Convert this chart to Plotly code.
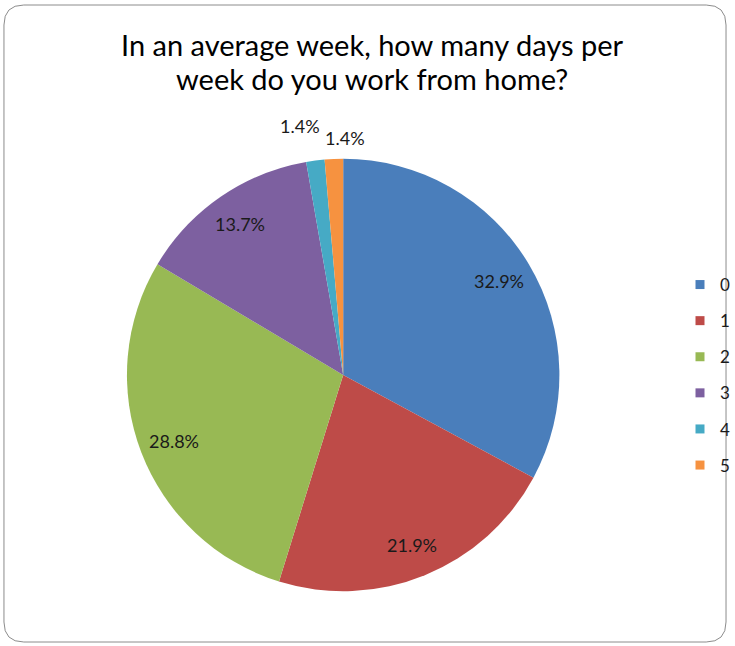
import math
import plotly.graph_objects as go

# ---- data ----
categories = ["0", "1", "2", "3", "4", "5"]
counts = [24, 16, 21, 10, 1, 1]          # respondents (n = 73)
colors = ["#4A7EBB", "#BE4B48", "#98B954", "#7D60A0", "#46AAC5", "#F69240"]
title_lines = ["In an average week, how many days per", "week do you work from home?"]

# ---- layout constants ----
W, H = 735, 646
CX, CY, R = 346, 375, 218
LABEL_R = 0.84                  # inside labels, fraction of radius
OUT_R = [1.15, 1.09]            # outside labels (small slices), fraction of radius
OUT_SHIFT = [-11, 12]           # horizontal nudge (px) to avoid overlap
FONT = "Lato, Carlito, Calibri, sans-serif"
TXT = "#1a1a1a"

dom_x = [(CX - R) / W, (CX + R) / W]
dom_y = [1 - (CY + R) / H, 1 - (CY - R) / H]

total = sum(counts)

fig = go.Figure()
fig.add_trace(go.Pie(
    labels=categories,
    values=counts,
    sort=False,
    direction="clockwise",
    rotation=0,
    marker=dict(colors=colors, line=dict(width=0)),
    textinfo="none",
    domain=dict(x=dom_x, y=dom_y),
    showlegend=False,
    hoverinfo="label+percent",
))

# data labels placed along each slice's mid-angle
annotations = []
cum = 0
k = 0
for c in counts:
    frac = c / total
    mid = (cum + frac / 2) * 2 * math.pi
    cum += frac
    if frac > 0.05:
        rf, shift = LABEL_R, 0
    else:
        rf, shift = OUT_R[k], OUT_SHIFT[k]
        k += 1
    x = CX + rf * R * math.sin(mid)
    y = CY - rf * R * math.cos(mid)
    annotations.append(dict(
        x=x / W, y=1 - y / H, xref="paper", yref="paper",
        text=f"{frac * 100:.1f}%", showarrow=False, xshift=shift,
        font=dict(family=FONT, size=18, color=TXT),
        xanchor="center", yanchor="middle",
    ))

for line, yc in zip(title_lines, [44, 79]):
    annotations.append(dict(
        x=375 / W, y=1 - yc / H, xref="paper", yref="paper",
        text=line, showarrow=False,
        font=dict(family=FONT, size=29, color="#000000"),
        xanchor="center", yanchor="middle", align="center",
    ))

# legend entries
for cat, col in zip(categories, colors):
    fig.add_trace(go.Scatter(
        x=[None], y=[None], mode="markers", name=cat,
        marker=dict(symbol="square", size=9, color=col),
        legendgroup=cat, showlegend=True, hoverinfo="skip",
    ))

# rounded border
x0, y0, x1, y1, rr = 4, 5, 732, 642, 20
def px(x): return x / W
def py(y): return 1 - y / H
path = (f"M {px(x0+rr)},{py(y0)} L {px(x1-rr)},{py(y0)} Q {px(x1)},{py(y0)} {px(x1)},{py(y0+rr)} "
        f"L {px(x1)},{py(y1-rr)} Q {px(x1)},{py(y1)} {px(x1-rr)},{py(y1)} "
        f"L {px(x0+rr)},{py(y1)} Q {px(x0)},{py(y1)} {px(x0)},{py(y1-rr)} "
        f"L {px(x0)},{py(y0+rr)} Q {px(x0)},{py(y0)} {px(x0+rr)},{py(y0)} Z")

fig.update_layout(
    width=W, height=H,
    margin=dict(l=0, r=0, t=0, b=0),
    paper_bgcolor="white", plot_bgcolor="white",
    xaxis=dict(visible=False), yaxis=dict(visible=False),
    annotations=annotations,
    shapes=[dict(type="path", path=path, xref="paper", yref="paper",
                 line=dict(color="#8c8c8c", width=1), layer="below")],
    legend=dict(x=686 / W, y=1 - 267 / H, xanchor="left", yanchor="top",
                font=dict(family=FONT, size=17, color=TXT),
                tracegroupgap=11, bgcolor="rgba(0,0,0,0)"),
    showlegend=True,
)

fig.write_html("out.html")
